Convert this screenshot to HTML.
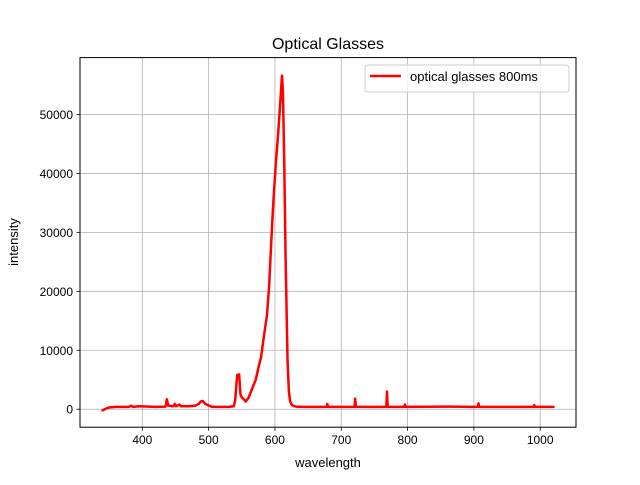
<!DOCTYPE html>
<html><head><meta charset="utf-8"><style>
html,body{margin:0;padding:0;background:#fff;}
svg text{font-family:"Liberation Sans","DejaVu Sans",sans-serif;}
</style></head><body>
<svg id="chart" width="640" height="480" xmlns="http://www.w3.org/2000/svg">
<rect x="0" y="0" width="640" height="480" fill="#fff"/>
<g id="grid"></g>
<g id="series"></g>
<rect x="80" y="57.6" width="496" height="369.6" fill="none" stroke="#000" stroke-width="1"/>
<g id="ticks"></g>
<text x="328" y="49" font-size="16" text-anchor="middle">Optical Glasses</text>
<text x="328" y="467" font-size="13" text-anchor="middle">wavelength</text>
<text x="18" y="242" font-size="13" text-anchor="middle" transform="rotate(-90 18 242)">intensity</text>
<g>
<rect x="365" y="65" width="204" height="27" rx="3" fill="#fff" fill-opacity="0.8" stroke="#ccc"/>
<line x1="370" y1="76" x2="401" y2="76" stroke="#ff0000" stroke-width="2.5"/>
<text x="410" y="81" font-size="13">optical glasses 800ms</text>
</g>
</svg>
<script>
const xTicks=[400,500,600,700,800,900,1000];
const yTicks=[0,10000,20000,30000,40000,50000];
const wavelength=[340,345,350,360,380,383,386,395,420,435,437,439,447,449,451,456,458,470,480,485,488,491,495,505,530,538,540,543,546,548,550,553,556,560,565,571,575,579,584,588,591,593,595.5,598,601.5,605,608,610.6,612,614,616,619,621,623,625,628,632,640,678,679,680,720,721,722,768,769,770,795,796,797,860,906,907,908,990,991,992,1020];
const intensity=[-200,100,300,400,400,600,400,500,400,450,1700,600,500,900,500,800,500,500,600,900,1300,1400,900,400,400,500,1500,5800,5900,2500,2000,1700,1300,1900,3300,5000,7000,8800,12900,16000,20500,25000,30800,36000,42000,47000,52000,56600,54000,42000,26000,8300,3000,1300,800,550,450,400,400,900,400,400,1800,400,400,3000,400,400,800,400,450,400,1000,400,400,700,400,400];
const X0=80,X1=576,Y0=427.2,Y1=57.6;
const xmin=306,xmax=1054,ymin=-3050,ymax=59650;
function sx(v){return X0+(v-xmin)/(xmax-xmin)*(X1-X0);}
function sy(v){return Y0-(v-ymin)/(ymax-ymin)*(Y0-Y1);}
const NS="http://www.w3.org/2000/svg";
const grid=document.getElementById('grid'),ticks=document.getElementById('ticks'),series=document.getElementById('series');
function mk(tag,attrs,parent){const e=document.createElementNS(NS,tag);for(const k in attrs)e.setAttribute(k,attrs[k]);parent.appendChild(e);return e;}
xTicks.forEach(t=>{const x=sx(t);
 const g=mk('line',{x1:x,x2:x,y1:Y1,y2:Y0,stroke:'#b0b0b0','stroke-width':0.8},grid);
 
 
 const tk=mk('line',{x1:x,x2:x,y1:Y0,y2:Y0+3.5,stroke:'#000','stroke-width':0.8},ticks);
 
 
 const tx=mk('text',{x:x,y:Y0+17,'font-size':12,'text-anchor':'middle'},ticks);tx.textContent=t;
 
 
});
yTicks.forEach(t=>{const y=sy(t);
 const g=mk('line',{x1:X0,x2:X1,y1:y,y2:y,stroke:'#b0b0b0','stroke-width':0.8},grid);
 
 
 const tk=mk('line',{x1:X0-3.5,x2:X0,y1:y,y2:y,stroke:'#000','stroke-width':0.8},ticks);
 
 
 const tx=mk('text',{x:X0-7,y:y+4.5,'font-size':12,'text-anchor':'end'},ticks);tx.textContent=t;
 
 
});
const pts=wavelength.map((w,i)=>sx(w).toFixed(2)+','+sy(intensity[i]).toFixed(2)).join(' ');
const pl=mk('polyline',{points:pts,fill:'none',stroke:'#ff0000','stroke-width':2.5,'stroke-linejoin':'round','stroke-linecap':'round'},series);


</script>
</body></html>
